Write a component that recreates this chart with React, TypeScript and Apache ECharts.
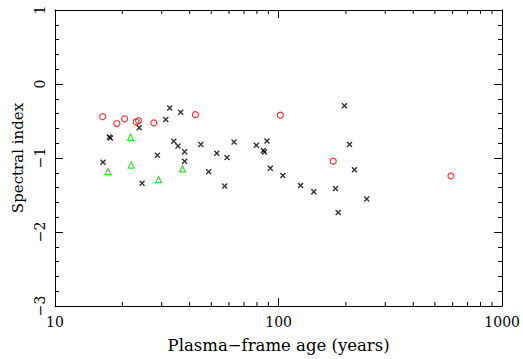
import React, { useEffect, useRef } from "react";
import * as echarts from "echarts";

// Black crosses: [age (years), spectral index]
const crossAges = [16.4, 17.5, 17.7, 23.8, 24.5, 28.7, 31.3, 32.6, 34.0, 35.5, 36.5, 38.0, 38.0, 44.9, 48.7, 52.9, 58.8, 57.4, 63.2, 79.5, 88.7, 85.5, 86.5, 91.8, 104.5, 125.4, 143.8, 179.7, 184.7, 197.1, 207.5, 218.4, 247.9];
const crossIndex = [-1.056, -0.715, -0.73, -0.592, -1.341, -0.963, -0.481, -0.324, -0.775, -0.837, -0.382, -0.917, -1.043, -0.819, -1.185, -0.936, -0.993, -1.377, -0.783, -0.829, -0.77, -0.9, -0.918, -1.14, -1.238, -1.372, -1.457, -1.412, -1.738, -0.294, -0.819, -1.158, -1.555];

// Red circles
const circleAges = [16.33, 18.92, 20.47, 23.07, 23.64, 27.67, 42.47, 101.8, 175.5, 590.2];
const circleIndex = [-0.441, -0.534, -0.472, -0.512, -0.494, -0.525, -0.414, -0.422, -1.043, -1.243];

// Green triangles
const triAges = [21.78, 17.29, 21.91, 29.04, 37.16];
const triIndex = [-0.72, -1.185, -1.095, -1.292, -1.148];

// Minor log ticks
const minorTicks = [20, 30, 40, 50, 60, 70, 80, 90, 200, 300, 400, 500, 600, 700, 800, 900];

const yMin = -3;
const yMax = 1;
const FONT = "DejaVu Serif";

const zip = (a: number[], b: number[]) => a.map((v, i) => [v, b[i]]);
const fmtMinus = (v: number) => String(v).replace("-", "\u2212");

export default function App() {
  const ref = useRef<HTMLDivElement>(null);
  useEffect(() => {
    if (!ref.current) return;
    const chart = echarts.init(ref.current, null, { renderer: "svg" });
    const axisLine = { show: true, onZero: false, lineStyle: { color: "#000", width: 1 } };
    const xCommon = {
      type: "log" as const,
      logBase: 10,
      min: 10,
      max: 1000,
      splitLine: { show: false },
      axisLine,
      axisTick: { show: true, inside: true, length: 8, lineStyle: { color: "#000" } },
    };
    const yCommon = {
      type: "value" as const,
      min: yMin,
      max: yMax,
      interval: 1,
      splitLine: { show: false },
      axisLine,
      axisTick: { show: true, inside: true, length: 8, lineStyle: { color: "#000" } },
      minorTick: { show: true, splitNumber: 5, length: 4, lineStyle: { color: "#000" } },
    };
    chart.setOption({
      animation: false,
      backgroundColor: "#fff",
      grid: { left: 55, right: 20, top: 10, bottom: 50 },
      xAxis: [
        {
          ...xCommon,
          position: "bottom",
          name: "Plasma\u2212frame age (years)",
          nameLocation: "middle",
          nameGap: 31,
          nameTextStyle: { fontFamily: FONT, fontSize: 16.5, color: "#000" },
          axisLabel: { fontFamily: FONT, fontSize: 14, color: "#000", margin: 9, formatter: (v: number) => String(Math.round(v)) },
        },
        { ...xCommon, position: "top", axisLabel: { show: false } },
      ],
      yAxis: [
        {
          ...yCommon,
          position: "left",
          name: "Spectral index",
          nameLocation: "middle",
          nameGap: 30,
          nameTextStyle: { fontFamily: FONT, fontSize: 15, color: "#000" },
          axisLabel: {
            fontFamily: FONT,
            fontSize: 14,
            color: "#000",
            rotate: 90,
            margin: 8,
            formatter: fmtMinus,
          },
        },
        { ...yCommon, position: "right", axisLabel: { show: false } },
      ],
      series: [
        {
          type: "custom",
          xAxisIndex: 0,
          yAxisIndex: 0,
          silent: true,
          clip: false,
          data: minorTicks.map((t) => [t, yMin]),
          renderItem: (_params: any, api: any) => {
            const x = api.value(0);
            const b = api.coord([x, yMin]);
            const t = api.coord([x, yMax]);
            return {
              type: "group",
              children: [
                { type: "line", shape: { x1: b[0], y1: b[1], x2: b[0], y2: b[1] - 4 }, style: { stroke: "#000", lineWidth: 1 } },
                { type: "line", shape: { x1: t[0], y1: t[1], x2: t[0], y2: t[1] + 4 }, style: { stroke: "#000", lineWidth: 1 } },
              ],
            };
          },
        },
        {
          type: "scatter",
          data: zip(crossAges, crossIndex),
          symbol: "path://M0,0L10,10M10,0L0,10",
          symbolSize: 5,
          itemStyle: { color: "transparent", borderColor: "#000", borderWidth: 1.4 },
        },
        {
          type: "scatter",
          data: zip(circleAges, circleIndex),
          symbol: "circle",
          symbolSize: 6,
          itemStyle: { color: "transparent", borderColor: "#ff0000", borderWidth: 1.2 },
        },
        {
          type: "scatter",
          data: zip(triAges, triIndex),
          symbol: "triangle",
          symbolSize: 6,
          itemStyle: { color: "transparent", borderColor: "#00dd00", borderWidth: 1.2 },
        },
      ],
    });
    return () => chart.dispose();
  }, []);
  return (
    <div
      ref={ref}
      style={{ position: "fixed", left: 0, top: 0, width: 523, height: 359, background: "#fff" }}
    />
  );
}
